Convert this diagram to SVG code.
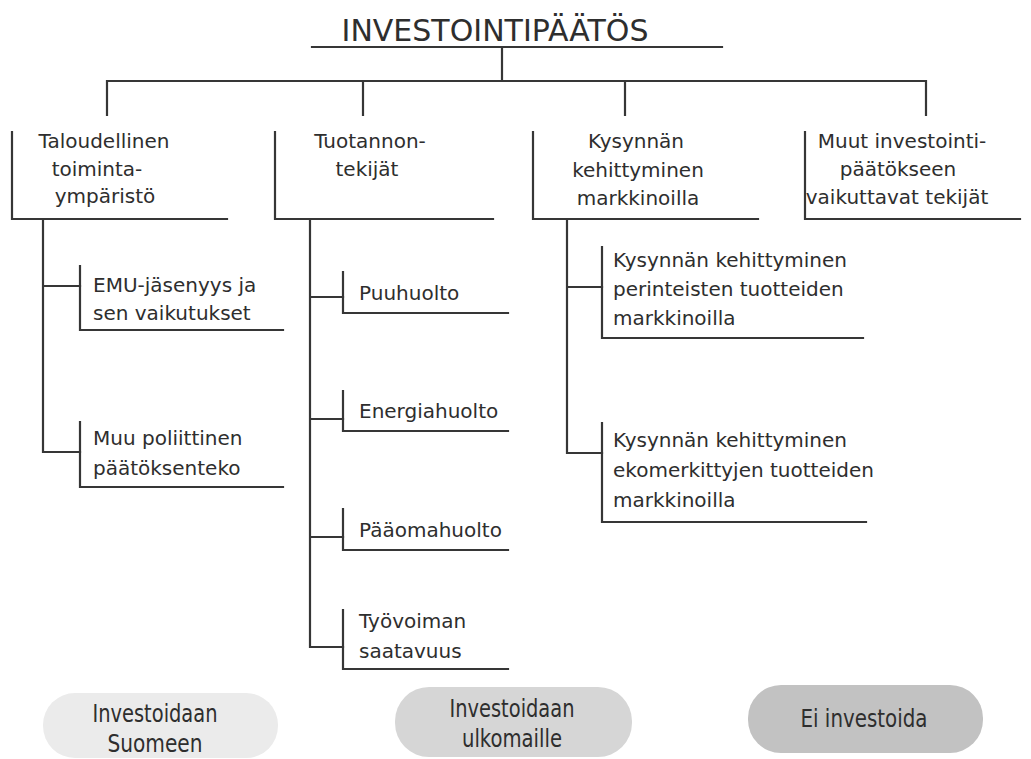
<svg xmlns="http://www.w3.org/2000/svg" width="1031" height="759" viewBox="0 0 1031 759">
<style>
text{font-family:"DejaVu Sans","Liberation Sans",sans-serif;fill:#2e2e2e;font-size:20px}
.t{font-size:30px}
.m{text-anchor:middle}
.p{font-size:25px;text-anchor:middle}
.ln{stroke:#363636;stroke-width:2.2;fill:none;stroke-linecap:square}
</style>
<rect width="1031" height="759" fill="#ffffff"/>
<g id="connectors" class="ln">
<path d="M502 47V81M107 81H926M107 81V115M363 81V115M625 81V115M926 81V115"/>
<path d="M43 219V452M43 286H80M43 452H80"/>
<path d="M310 219V647M310 297H343M310 419H343M310 537H343M310 647H343"/>
<path d="M567 219V453M567 287H602M567 453H602"/>
</g>
<g id="title">
<text class="t m" x="495" y="41">INVESTOINTIPÄÄTÖS</text>
<path class="ln" d="M312 47H722"/>
</g>
<g id="n-talous">
<path class="ln" d="M12 132V219H227"/>
<text class="m" x="104" y="148">Taloudellinen</text>
<text class="m" x="97" y="176">toiminta-</text>
<text class="m" x="105" y="203">ympäristö</text>
</g>
<g id="n-tuotanto">
<path class="ln" d="M275 132V219H493"/>
<text class="m" x="370" y="148">Tuotannon-</text>
<text class="m" x="367" y="176">tekijät</text>
</g>
<g id="n-kysynta">
<path class="ln" d="M533 132V219H758"/>
<text class="m" x="636" y="148">Kysynnän</text>
<text class="m" x="638" y="177">kehittyminen</text>
<text class="m" x="638" y="205">markkinoilla</text>
</g>
<g id="n-muut">
<path class="ln" d="M805 132V219H1020"/>
<text class="m" x="902" y="148">Muut investointi-</text>
<text class="m" x="898" y="176">päätökseen</text>
<text class="m" x="897" y="204">vaikuttavat tekijät</text>
</g>
<g id="n-emu">
<path class="ln" d="M80 266V330H283"/>
<text x="93" y="292">EMU-jäsenyys ja</text>
<text x="93" y="320">sen vaikutukset</text>
</g>
<g id="n-politiikka">
<path class="ln" d="M80 422V487H283"/>
<text x="93" y="445">Muu poliittinen</text>
<text x="93" y="475">päätöksenteko</text>
</g>
<g id="n-puu">
<path class="ln" d="M343 272V313H508"/>
<text x="359" y="300">Puuhuolto</text>
</g>
<g id="n-energia">
<path class="ln" d="M343 391V431H508"/>
<text x="359" y="418">Energiahuolto</text>
</g>
<g id="n-paaoma">
<path class="ln" d="M343 509V550H508"/>
<text x="359" y="537">Pääomahuolto</text>
</g>
<g id="n-tyovoima">
<path class="ln" d="M343 610V669H508"/>
<text x="359" y="628">Työvoiman</text>
<text x="359" y="658">saatavuus</text>
</g>
<g id="n-perinteiset">
<path class="ln" d="M602 247V338H863"/>
<text x="613" y="267">Kysynnän kehittyminen</text>
<text x="613" y="296">perinteisten tuotteiden</text>
<text x="613" y="325">markkinoilla</text>
</g>
<g id="n-eko">
<path class="ln" d="M602 423V522H866"/>
<text x="613" y="447">Kysynnän kehittyminen</text>
<text x="613" y="477">ekomerkittyjen tuotteiden</text>
<text x="613" y="507">markkinoilla</text>
</g>
<g id="pill-suomi">
<rect x="43" y="693" width="235" height="65" rx="32" fill="#ebebeb"/>
<text class="p" x="155" y="722" textLength="125" lengthAdjust="spacingAndGlyphs">Investoidaan</text>
<text class="p" x="155" y="752" textLength="95" lengthAdjust="spacingAndGlyphs">Suomeen</text>
</g>
<g id="pill-ulkomaat">
<rect x="395" y="687" width="237" height="70" rx="34" fill="#d6d6d6"/>
<text class="p" x="512" y="717" textLength="125" lengthAdjust="spacingAndGlyphs">Investoidaan</text>
<text class="p" x="512" y="747" textLength="100" lengthAdjust="spacingAndGlyphs">ulkomaille</text>
</g>
<g id="pill-ei">
<rect x="748" y="685" width="235" height="68" rx="33" fill="#c2c2c2"/>
<text class="p" x="864" y="727" textLength="127" lengthAdjust="spacingAndGlyphs">Ei investoida</text>
</g>
</svg>
